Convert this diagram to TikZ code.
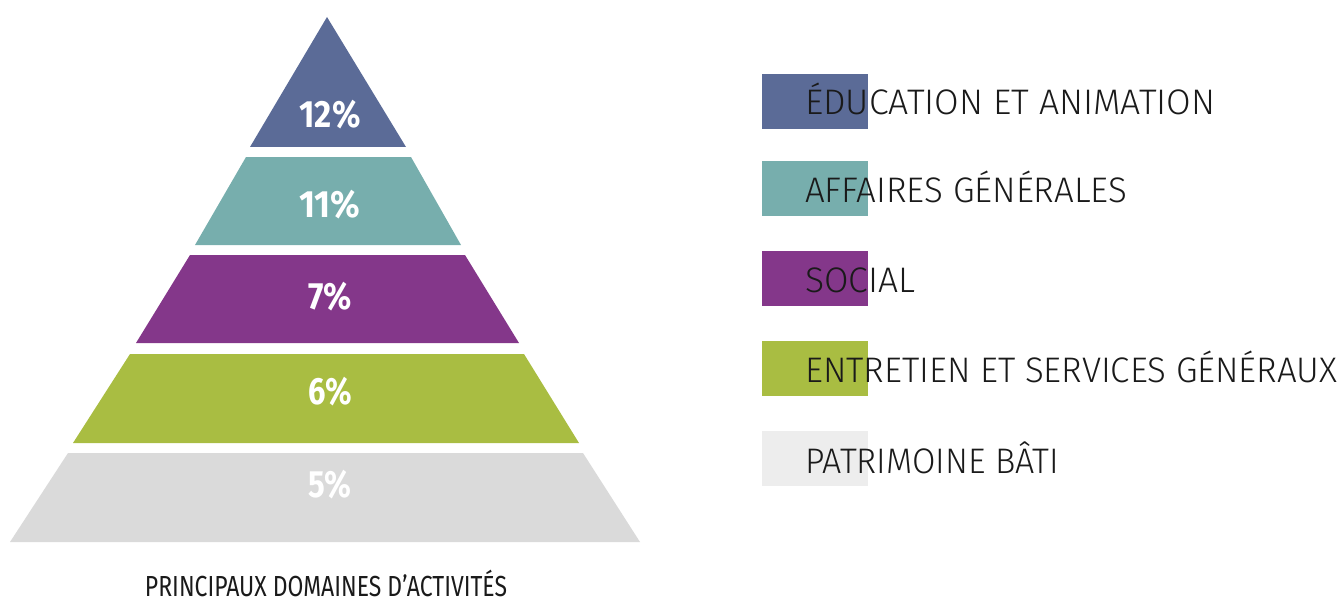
\documentclass[tikz,border=0pt]{standalone}
\usepackage{fontspec}
\usepackage{graphicx}
\setmainfont{Fira Sans}
\IfFontExistsTF{Fira Sans Light}{\newfontfamily\legendfont{Fira Sans Light}}{%
  \IfFontExistsTF{Lato Light}{\newfontfamily\legendfont{Lato Light}}{\newfontfamily\legendfont{Fira Sans}}}
\definecolor{cblue}{HTML}{5B6B97}
\definecolor{cteal}{HTML}{77AEAD}
\definecolor{cpurple}{HTML}{84378A}
\definecolor{cgreen}{HTML}{A9BD42}
\definecolor{cgrey}{HTML}{DADADA}
\definecolor{clegrey}{HTML}{EDEDED}
\definecolor{ctext}{HTML}{1A1A1A}
\begin{document}
\begin{tikzpicture}[x=1pt,y=-1pt,
  pct/.style={anchor=base, inner sep=0pt, text=white, font=\bfseries\fontsize{38}{38}\selectfont},
  legbox/.style={anchor=north west, inner sep=0pt, outer sep=0pt, minimum width=106pt, minimum height=55pt, draw=none},
  legtext/.style={anchor=base west, inner sep=0pt, text=ctext, font=\legendfont\fontsize{35.5}{35.5}\selectfont},
  captext/.style={anchor=base, inner sep=0pt, text=ctext, font=\fontsize{29}{29}\selectfont}
]
\useasboundingbox (0,0) rectangle (1341,599);
% pyramid bands
\fill[cblue]   (327,17) -- (406,147) -- (250,147) -- cycle;
\fill[cteal]   (246,157) -- (411,157) -- (461,245) -- (195,245) -- cycle;
\fill[cpurple] (190,255) -- (465,255) -- (519,343) -- (136,343) -- cycle;
\fill[cgreen]  (130,354) -- (524,354) -- (579,443) -- (73,443) -- cycle;
\fill[cgrey]   (68,453) -- (583,453) -- (640,542) -- (10,542) -- cycle;
% percentages
\node[pct] (p1) at (330,128) {\resizebox{61pt}{\height}{12\%}};
\node[pct] (p2) at (330,217) {\resizebox{61pt}{\height}{11\%}};
\node[pct] (p3) at (330,309) {\resizebox{44pt}{\height}{7\%}};
\node[pct] (p4) at (330,404) {\resizebox{44pt}{\height}{6\%}};
\node[pct] (p5) at (330,497) {\resizebox{43pt}{\height}{5\%}};
% caption
\node[captext] (cap) at (326,596) {\resizebox{362pt}{\height}{PRINCIPAUX DOMAINES D’ACTIVITÉS}};
% legend boxes
\node[legbox, fill=cblue]   (b1) at (762,74)  {};
\node[legbox, fill=cteal]   (b2) at (762,161) {};
\node[legbox, fill=cpurple] (b3) at (762,251) {};
\node[legbox, fill=cgreen]  (b4) at (762,341) {};
\node[legbox, fill=clegrey] (b5) at (762,431) {};
% legend texts
\node[legtext] (t1) at (805,115) {\resizebox{410pt}{\height}{ÉDUCATION ET ANIMATION}};
\node[legtext] (t2) at (805,203) {\resizebox{322pt}{\height}{AFFAIRES GÉNÉRALES}};
\node[legtext] (t3) at (805,292) {\resizebox{110pt}{\height}{SOCIAL}};
\node[legtext] (t4) at (805,382) {\resizebox{532pt}{\height}{ENTRETIEN ET SERVICES GÉNÉRAUX}};
\node[legtext] (t5) at (805,473) {\resizebox{254pt}{\height}{PATRIMOINE BÂTI}};
\end{tikzpicture}
\end{document}
